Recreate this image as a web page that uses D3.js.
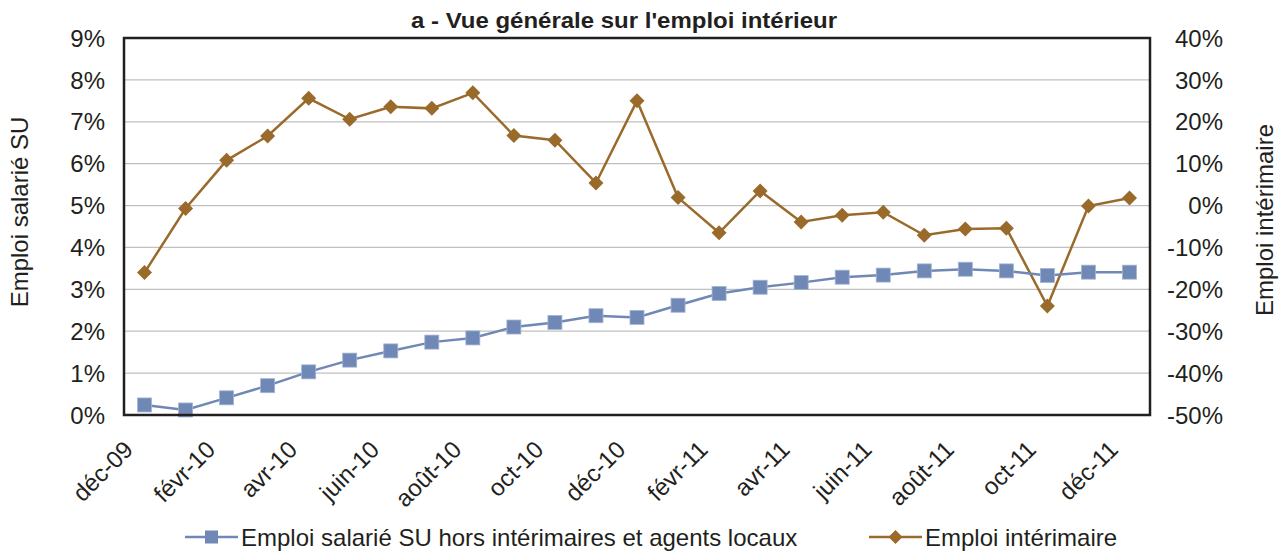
<!DOCTYPE html>
<html>
<head>
<meta charset="utf-8">
<script src="https://cdn.jsdelivr.net/npm/d3@7"></script>
<style>
  body { margin: 0; background: #fff; }
  text { font-family: "Liberation Sans", Arial, sans-serif; fill: #231f20; }
</style>
</head>
<body>
<svg id="chart" width="1284" height="555" viewBox="0 0 1284 555"></svg>
<script>
// months (one point per month), labels shown every 2nd month
let months = ["déc-09","janv-10","févr-10","mars-10","avr-10","mai-10","juin-10","juil-10","août-10","sept-10","oct-10","nov-10","déc-10",
              "janv-11","févr-11","mars-11","avr-11","mai-11","juin-11","juil-11","août-11","sept-11","oct-11","nov-11","déc-11"]
let tickLabels = ["déc-09","févr-10","avr-10","juin-10","août-10","oct-10","déc-10","févr-11","avr-11","juin-11","août-11","oct-11","déc-11"]

// Emploi salarié SU hors intérimaires et agents locaux (left axis, %)
let salarie = [0.24,0.12,0.41,0.70,1.03,1.31,1.53,1.74,1.84,2.10,2.21,2.37,2.33,
               2.62,2.90,3.05,3.16,3.29,3.34,3.44,3.48,3.44,3.33,3.41,3.41]
// Emploi intérimaire (right axis, %)
let interim = [-16.0,-0.7,10.8,16.6,25.6,20.6,23.6,23.2,26.9,16.7,15.6,5.4,25.0,
               1.9,-6.5,3.5,-3.9,-2.3,-1.6,-7.1,-5.6,-5.4,-24.0,-0.1,1.8]

let leftTicks = [0,1,2,3,4,5,6,7,8,9]
let rightTicks = [-50,-40,-30,-20,-10,0,10,20,30,40]

let blue = '#6f88b6'
let brown = '#9a6a2b'
let fs = '24px'

let svg = d3.select('#chart')
let plot = {left: 124, right: 1150, top: 38, bottom: 415}

let x = d3.scalePoint().domain(months).range([plot.left, plot.right]).padding(0.5)
let yL = d3.scaleLinear().domain([0, 9]).range([plot.bottom, plot.top])
let yR = d3.scaleLinear().domain([-50, 40]).range([plot.bottom, plot.top])

// gridlines
svg.append('g').selectAll('line')
    .data(leftTicks.filter(function (d) { return d > 0 && d < 9 }))
    .enter().append('line')
    .attr('x1', plot.left).attr('x2', plot.right)
    .attr('y1', function (d) { return yL(d) }).attr('y2', function (d) { return yL(d) })
    .style('stroke', '#c0c0c0').style('stroke-width', 1.3)

// left axis labels
svg.append('g').selectAll('text')
    .data(leftTicks).enter().append('text')
    .attr('x', 105).attr('y', function (d) { return yL(d) })
    .attr('dy', '0.36em').attr('text-anchor', 'end')
    .style('font-size', fs)
    .text(function (d) { return d + '%' })

// right axis labels
svg.append('g').selectAll('text')
    .data(rightTicks).enter().append('text')
    .attr('x', 1223).attr('y', function (d) { return yR(d) })
    .attr('dy', '0.36em').attr('text-anchor', 'end')
    .style('font-size', fs)
    .text(function (d) { return d + '%' })

// x labels, rotated
svg.append('g').selectAll('text')
    .data(tickLabels).enter().append('text')
    .attr('transform', function (d) { return `translate(${x(d) - 10},${451}) rotate(-45)` })
    .attr('text-anchor', 'end')
    .style('font-size', fs)
    .text(function (d) { return d })

// lines
let lineL = d3.line()
    .x(function (d, i) { return x(months[i]) })
    .y(function (d) { return yL(d) })
let lineR = d3.line()
    .x(function (d, i) { return x(months[i]) })
    .y(function (d) { return yR(d) })

// intérim first, salarié drawn on top
svg.append('path').datum(interim)
    .attr('d', lineR).style('fill', 'none').style('stroke', brown).style('stroke-width', 2.5)
svg.append('g').selectAll('path')
    .data(interim).enter().append('path')
    .attr('transform', function (d, i) { return `translate(${x(months[i])},${yR(d)})` })
    .attr('d', 'M0,-7.5L7.5,0L0,7.5L-7.5,0Z')
    .style('fill', brown)

svg.append('path').datum(salarie)
    .attr('d', lineL).style('fill', 'none').style('stroke', blue).style('stroke-width', 2.5)
svg.append('g').selectAll('rect')
    .data(salarie).enter().append('rect')
    .attr('x', function (d, i) { return x(months[i]) - 7 })
    .attr('y', function (d) { return yL(d) - 7 })
    .attr('width', 14).attr('height', 14)
    .style('fill', blue).style('stroke', '#a3b3d2').style('stroke-width', 0.8)

// plot border
svg.append('rect')
    .attr('x', plot.left).attr('y', plot.top)
    .attr('width', plot.right - plot.left).attr('height', plot.bottom - plot.top)
    .style('fill', 'none').style('stroke', '#231f20').style('stroke-width', 2.5)

// title
svg.append('text')
    .attr('x', 624).attr('y', 28)
    .attr('text-anchor', 'middle')
    .attr('textLength', 426).attr('lengthAdjust', 'spacingAndGlyphs')
    .style('font-size', '22px').style('font-weight', 'bold')
    .text("a - Vue générale sur l'emploi intérieur")

// axis titles
svg.append('text')
    .attr('transform', 'translate(28,212) rotate(-90)')
    .attr('text-anchor', 'middle')
    .style('font-size', fs)
    .text('Emploi salarié SU')
svg.append('text')
    .attr('transform', 'translate(1273,220) rotate(-90)')
    .attr('text-anchor', 'middle')
    .style('font-size', fs)
    .text('Emploi intérimaire')

// legend
let legend = [
    {name: 'Emploi salarié SU hors intérimaires et agents locaux', color: blue, x: 185, shape: 'square'},
    {name: 'Emploi intérimaire', color: brown, x: 869, shape: 'diamond'}
]
let lg = svg.append('g').selectAll('g')
    .data(legend).enter().append('g')
    .attr('transform', function (d) { return `translate(${d.x},537)` })
lg.append('line')
    .attr('x1', 0).attr('x2', 53).attr('y1', 0).attr('y2', 0)
    .style('stroke', function (d) { return d.color }).style('stroke-width', 2.5)
lg.append('path')
    .attr('d', function (d) {
        return d.shape === 'square' ? 'M20,-6.5h13v13h-13Z' : 'M26.5,-7L33.5,0L26.5,7L19.5,0Z'
    })
    .style('fill', function (d) { return d.color })
lg.append('text')
    .attr('x', 56).attr('dy', '0.36em')
    .style('font-size', fs)
    .text(function (d) { return d.name })
</script>
</body>
</html>
